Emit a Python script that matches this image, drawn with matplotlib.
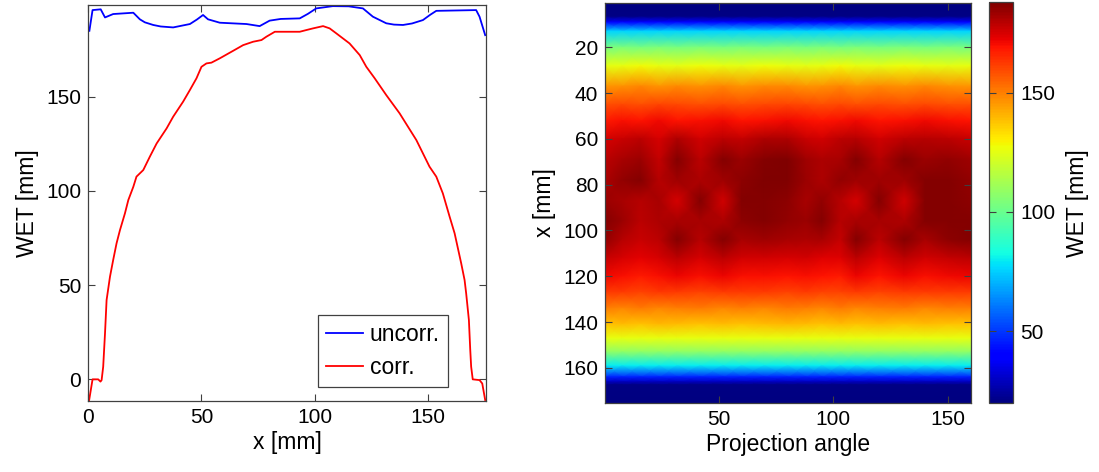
import numpy as np
import matplotlib
matplotlib.use("Agg")
import matplotlib.pyplot as plt

plt.rcParams['font.family'] = ['Liberation Sans', 'DejaVu Sans']

# ---- WET profile along x (left panel) ----
uncorr_x = [0.5, 1.9, 5.5, 7.4, 11, 19.9, 22.8, 25, 28.7, 32, 37.5, 44.9, 48, 50.7,
            52.9, 58.1, 69.9, 75.7, 80.1, 85, 93.4, 97, 100.7, 108, 115, 121.3,
            125.7, 131.6, 135, 139, 143, 147.8, 151, 153.7, 171.3, 172.8, 175.3]
uncorr_wet = [185.0, 196.0, 196.4, 192.1, 193.9, 194.6, 191.1, 189.5, 188.1, 187.3,
              186.8, 188.6, 191.0, 193.4, 191.1, 189.3, 188.6, 187.5, 190.4, 191.3,
              191.6, 194.0, 196.9, 198.1, 198.0, 196.9, 192.5, 189.0, 188.3, 188.1,
              188.9, 190.7, 193.5, 195.6, 196.0, 192.5, 182.7]

corr_x = [0.4, 1.9, 4.4, 5.4, 5.9, 6.6, 7.4, 8.1, 9.6, 11.0, 12.5, 14.0, 16.2, 17.7,
          19.9, 21.3, 24.3, 27.2, 30.2, 34.6, 37.5, 41.9, 44.9, 47.8, 50.0, 52.2,
          54.4, 58.1, 64.0, 68.4, 72.8, 76.5, 78.7, 82.4, 93.4, 96.3, 99.3, 103.7,
          106.6, 109.6, 115.4, 119.9, 122.8, 126.5, 131.6, 137.5, 144.9, 150.7,
          153.7, 156.6, 159.6, 161.8, 164.7, 166.2, 166.9, 168.1, 168.7, 169.1,
          169.8, 172.8, 174.0, 175.3]
corr_wet = [-11.0, 0.0, 0.0, -1.2, -0.4, 6.7, 24.4, 42.1, 54.5, 63.3, 72.2, 79.2,
            88.1, 95.2, 102.2, 107.6, 111.1, 118.2, 125.2, 133.2, 139.4, 147.4,
            153.6, 159.8, 165.9, 167.7, 168.1, 170.4, 174.4, 177.4, 179.2, 180.1,
            181.9, 184.5, 184.5, 185.4, 186.3, 187.5, 186.3, 183.6, 178.3, 172.1,
            165.9, 159.8, 150.9, 141.2, 127.0, 112.9, 107.6, 98.7, 86.3, 77.5, 61.6,
            52.7, 45.6, 31.5, 15.6, 6.7, 0.0, -0.4, -2.2, -11.0]

# ---- WET sinogram (right panel): sample angles (columns) and x positions (rows) ----
angles = [0.5, 8, 16, 24, 32, 42, 52, 60, 70, 80, 88, 95, 103, 110, 120, 131, 140, 150, 160]
rows_x = [0.5, 6.5, 9, 13, 20, 28, 37, 45, 52, 60, 69, 78, 87, 96, 104, 112, 120,
          127, 134, 141, 147, 153, 159, 164, 166, 167.5, 175.5]

wet_r000 = [20] * 19
wet_r006 = [21] * 19
wet_r009 = [40] * 19
wet_r013 = [76] * 19
wet_r020 = [103, 104, 103, 104, 103, 104, 103, 104, 103, 104, 103, 104, 103, 104, 103, 104, 103, 104, 103]
wet_r028 = [125, 126, 128, 126, 125, 127, 126, 125, 127, 126, 125, 126, 128, 126, 125, 127, 126, 125, 126]
wet_r037 = [146, 147, 149, 146, 148, 147, 149, 146, 148, 148, 146, 147, 149, 146, 148, 147, 149, 147, 146]
wet_r045 = [159, 160, 159, 161, 160, 159, 160, 159, 160, 161, 160, 159, 160, 159, 160, 159, 160, 159, 159]
wet_r052 = [168, 170, 169, 171, 169, 170, 171, 169, 170, 171, 170, 169, 170, 171, 169, 170, 171, 170, 169]
wet_r060 = [175, 177, 179, 175, 181, 176, 179, 178, 181, 181, 177, 176, 179, 180, 176, 179, 180, 179, 177]
wet_r069 = [179, 182, 184, 178, 187, 179, 187, 184, 187, 188, 183, 181, 182, 187, 180, 187, 184, 185, 183]
wet_r078 = [181, 185, 187, 180, 183, 181, 183, 186, 188, 188, 184, 181, 185, 183, 183, 183, 187, 187, 185]
wet_r087 = [184, 182, 180, 182, 175, 187, 176, 187, 187, 186, 182, 185, 180, 175, 187, 176, 187, 187, 186]
wet_r096 = [187, 184, 179, 181, 182, 182, 181, 186, 187, 185, 184, 187, 180, 182, 182, 181, 187, 187, 187]
wet_r104 = [185, 180, 177, 179, 187, 180, 187, 182, 183, 182, 181, 182, 178, 187, 179, 187, 182, 186, 187]
wet_r112 = [178, 175, 173, 175, 179, 175, 179, 176, 176, 175, 176, 174, 174, 179, 174, 179, 176, 178, 179]
wet_r120 = [171, 170, 168, 170, 172, 170, 172, 170, 170, 169, 170, 169, 168, 172, 169, 172, 170, 171, 172]
wet_r127 = [162, 162, 161, 163, 162, 161, 162, 162, 162, 161, 162, 161, 161, 162, 161, 162, 162, 162, 162]
wet_r134 = [150, 149, 151, 149, 150, 151, 149, 150, 149, 151, 150, 149, 151, 149, 150, 151, 149, 150, 150]
wet_r141 = [138, 139, 138, 140, 139, 138, 139, 138, 139, 140, 139, 138, 139, 138, 139, 138, 139, 138, 138]
wet_r147 = [126] * 19
wet_r153 = [108] * 19
wet_r159 = [80] * 19
wet_r164 = [46] * 19
wet_r166 = [30] * 19
wet_r167 = [21] * 19
wet_r175 = [20] * 19

sinogram = np.array([wet_r000, wet_r006, wet_r009, wet_r013, wet_r020, wet_r028,
                     wet_r037, wet_r045, wet_r052, wet_r060, wet_r069, wet_r078,
                     wet_r087, wet_r096, wet_r104, wet_r112, wet_r120, wet_r127,
                     wet_r134, wet_r141, wet_r147, wet_r153, wet_r159, wet_r164,
                     wet_r166, wet_r167, wet_r175], dtype=float)

TICK_FS = 15
LABEL_FS = 16.5
EDGE = '0.25'

fig = plt.figure(figsize=(10.99, 4.72), dpi=100)


def matlab_box(ax):
    for s in ax.spines.values():
        s.set_color(EDGE)
        s.set_linewidth(0.9)
    ax.tick_params(direction='in', top=True, right=True, length=5, width=0.8,
                   color=EDGE, labelsize=TICK_FS, pad=5)


# ---- left: WET profiles ----
ax1 = fig.add_axes([0.0803, 0.1504, 0.3616, 0.839])
ax1.plot(uncorr_x, uncorr_wet, color='#0000ff', lw=1.3, label='uncorr.')
ax1.plot(corr_x, corr_wet, color='#ff0000', lw=1.3, label='corr.')
ax1.set_xlim(0, 175.5)
ax1.set_ylim(-11.5, 198.7)
ax1.set_xticks([0, 50, 100, 150])
ax1.set_yticks([0, 50, 100, 150])
ax1.set_xlabel('x [mm]', fontsize=LABEL_FS, labelpad=3)
ax1.set_ylabel('WET [mm]', fontsize=LABEL_FS, labelpad=5)
matlab_box(ax1)
leg = ax1.legend(loc='lower right', bbox_to_anchor=(0.905, 0.035), fontsize=16.5,
                 fancybox=False, framealpha=1, edgecolor=EDGE, handlelength=1.6,
                 handletextpad=0.3, borderpad=0.35, labelspacing=0.45,
                 borderaxespad=0)
leg.get_frame().set_linewidth(0.9)

# ---- right: sinogram ----
ax2 = fig.add_axes([0.5505, 0.1456, 0.333, 0.8487])
mesh = ax2.pcolormesh(angles, rows_x, sinogram, shading='gouraud', cmap='jet',
                      vmin=19.7, vmax=188)
ax2.set_xlim(0.5, 160)
ax2.set_ylim(175.5, 0.5)
ax2.set_xticks([50, 100, 150])
ax2.set_yticks([20, 40, 60, 80, 100, 120, 140, 160])
ax2.set_xlabel('Projection angle', fontsize=LABEL_FS, labelpad=3)
ax2.set_ylabel('x [mm]', fontsize=LABEL_FS, labelpad=5)
matlab_box(ax2)

cax = fig.add_axes([0.9002, 0.1453, 0.0218, 0.850])
cb = fig.colorbar(mesh, cax=cax)
cb.set_ticks([50, 100, 150])
cb.outline.set_edgecolor(EDGE)
cb.outline.set_linewidth(0.9)
cax.tick_params(direction='in', left=True, right=True, length=5, width=0.8,
                color=EDGE, labelsize=TICK_FS, pad=5)
cb.set_label('WET [mm]', fontsize=LABEL_FS, labelpad=8)

fig.savefig('out.png', dpi=100)
